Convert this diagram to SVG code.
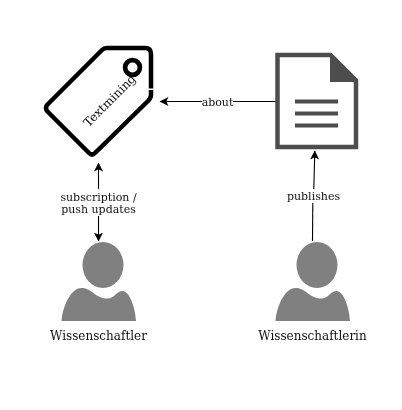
<svg xmlns="http://www.w3.org/2000/svg" width="402" height="410" viewBox="0 0 402 410">
<defs>
<marker id="a" markerWidth="10" markerHeight="10" refX="8.500" refY="4.500" orient="auto" markerUnits="userSpaceOnUse"><path d="M0 0L9 4.500L0 9L2.200 4.500Z" fill="#000"/></marker>
<path id="p" d="M0 79C1 65 9 46 20 46C31 46 33 56.500 46 56.500C53 56.500 55 49 61 49C68 49 74 66 74.500 79Z" fill="#808080"/>
<filter id="g" x="0" y="0" width="1" height="1"><feOffset dx="0" dy="0"/></filter>
</defs>
<style>text{font-family:"DejaVu Serif",serif;fill:#111}.s{font-size:11px}.l{font-size:12px}.c{stroke:#000;stroke-width:1.100;fill:none}.b{fill:#808080}</style>
<rect width="402" height="410" fill="#fff"/>
<g id="connectors">
<path class="c" d="M98.500 189V163" marker-end="url(#a)"/>
<path class="c" d="M98.500 216V241" marker-end="url(#a)"/>
<path class="c" d="M202 101.500H160" marker-end="url(#a)"/>
<path class="c" d="M233 101.500H276"/>
<path class="c" d="M312.500 241L312.800 203"/>
<path class="c" d="M313.800 189L314.800 151" marker-end="url(#a)"/>
</g>
<g id="tag">
<path d="M151 88.500V54Q151 48 145 48H107Q104 48 102 50L47 105Q45 108 47 111L89 153Q92 156 95 153L148 101Q151 98 151 95V90" fill="#fff" stroke="#000" stroke-width="4.500" stroke-linejoin="round"/>
<circle cx="132.500" cy="67.500" r="7.400" fill="#fff" stroke="#000" stroke-width="4.700"/>
<g filter="url(#g)"><text class="l" transform="translate(112.500 103.500) rotate(-45)" text-anchor="middle">Textmining</text></g>
</g>
<g id="document">
<path d="M277.500 55H330.500L356 80.500V147H277.500Z" fill="#fff" stroke="#4d4d4d" stroke-width="4.500"/>
<path d="M330 53L358 81V82H330Z" fill="#4d4d4d"/>
<path d="M295 101.500H338M295 113.500H338M295 125.500H338" stroke="#4d4d4d" stroke-width="4"/>
</g>
<g id="scientist-m">
<ellipse class="b" cx="103" cy="265" rx="20.500" ry="23"/>
<use href="#p" x="61.500" y="242"/>
<g filter="url(#g)"><text class="l" x="98.500" y="340" text-anchor="middle">Wissenschaftler</text></g>
</g>
<g id="scientist-f">
<ellipse class="b" cx="317" cy="265" rx="20.500" ry="23"/>
<use href="#p" x="275.500" y="242"/>
<g filter="url(#g)"><text class="l" x="312.500" y="340" text-anchor="middle">Wissenschaftlerin</text></g>
</g>
<g id="labels" filter="url(#g)">
<text class="s" x="98.500" y="201" text-anchor="middle">subscription /</text>
<text class="s" x="98.500" y="213" text-anchor="middle">push updates</text>
<text class="s" x="217.500" y="106" text-anchor="middle">about</text>
<text class="s" x="313.500" y="200" text-anchor="middle">publishes</text>
</g>
</svg>
